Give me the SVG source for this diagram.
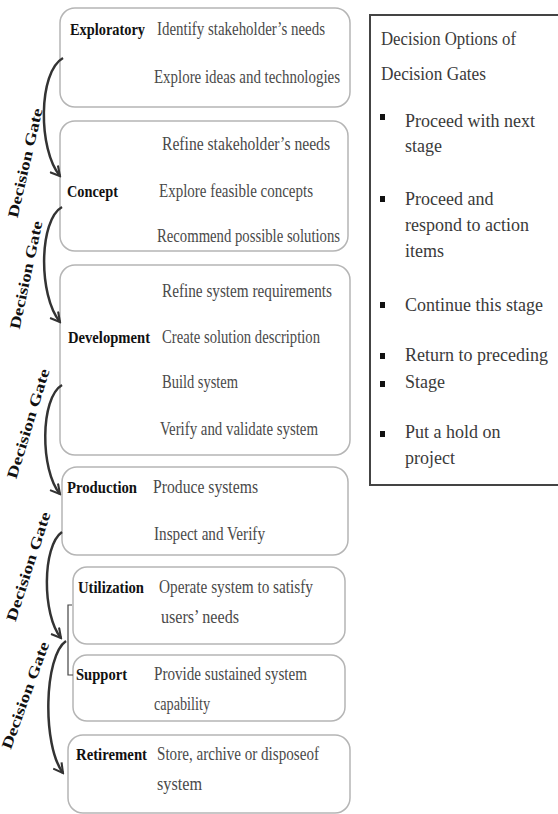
<svg xmlns="http://www.w3.org/2000/svg" width="558" height="814" viewBox="0 0 558 814">
<style>
.box{fill:#fff;stroke:#b5b5b5;stroke-width:1.5}
.lbl{font-family:"Liberation Serif",serif;font-weight:bold;font-size:17px;fill:#111}
.desc{font-family:"Liberation Serif",serif;font-size:18px;fill:#4a4a4a}
.gate{font-family:"Liberation Serif",serif;font-weight:bold;font-size:15px;fill:#111}
.arc{fill:none;stroke:#333;stroke-width:2.5;marker-end:url(#ah)}
.side{font-family:"Liberation Serif",serif;fill:#3a3a3a}
.bul{fill:#111}
</style>
<defs>
<marker id="ah" viewBox="0 0 12 12" refX="10" refY="6" markerWidth="5" markerHeight="5" orient="auto" markerUnits="strokeWidth">
<path d="M1,1 L10,6 L1,11" fill="none" stroke="#333" stroke-width="2"/>
</marker>
</defs>
<rect width="558" height="814" fill="#fff"/>

<g id="exploratory">
<rect class="box" x="60" y="8" width="290" height="99" rx="15"/>
<text class="lbl" x="70" y="35" textLength="75" lengthAdjust="spacingAndGlyphs">Exploratory</text>
<text class="desc" x="157" y="35" textLength="168" lengthAdjust="spacingAndGlyphs">Identify stakeholder’s needs</text>
<text class="desc" x="154" y="83" textLength="186" lengthAdjust="spacingAndGlyphs">Explore ideas and technologies</text>
</g>
<g id="concept">
<rect class="box" x="60" y="121" width="288" height="130" rx="15"/>
<text class="desc" x="162" y="150" textLength="168" lengthAdjust="spacingAndGlyphs">Refine stakeholder’s needs</text>
<text class="lbl" x="67" y="197" textLength="51" lengthAdjust="spacingAndGlyphs">Concept</text>
<text class="desc" x="159" y="197" textLength="154" lengthAdjust="spacingAndGlyphs">Explore feasible concepts</text>
<text class="desc" x="157" y="242" textLength="183" lengthAdjust="spacingAndGlyphs">Recommend possible solutions</text>
</g>
<g id="development">
<rect class="box" x="60" y="265" width="290" height="190" rx="15"/>
<text class="desc" x="162" y="297" textLength="170" lengthAdjust="spacingAndGlyphs">Refine system requirements</text>
<text class="lbl" x="68" y="343" textLength="82" lengthAdjust="spacingAndGlyphs">Development</text>
<text class="desc" x="162" y="343" textLength="158" lengthAdjust="spacingAndGlyphs">Create solution description</text>
<text class="desc" x="162" y="388" textLength="76" lengthAdjust="spacingAndGlyphs">Build system</text>
<text class="desc" x="160" y="435" textLength="158" lengthAdjust="spacingAndGlyphs">Verify and validate system</text>
</g>
<g id="production">
<rect class="box" x="62" y="467" width="286" height="88" rx="15"/>
<text class="lbl" x="67" y="493" textLength="70" lengthAdjust="spacingAndGlyphs">Production</text>
<text class="desc" x="153" y="493" textLength="105" lengthAdjust="spacingAndGlyphs">Produce systems</text>
<text class="desc" x="154" y="540" textLength="111" lengthAdjust="spacingAndGlyphs">Inspect and Verify</text>
</g>
<g id="utilization">
<rect class="box" x="73" y="567" width="272" height="77" rx="14"/>
<text class="lbl" x="78" y="593" textLength="66" lengthAdjust="spacingAndGlyphs">Utilization</text>
<text class="desc" x="159" y="593" textLength="154" lengthAdjust="spacingAndGlyphs">Operate system to satisfy</text>
<text class="desc" x="161" y="623" textLength="78" lengthAdjust="spacingAndGlyphs">users’ needs</text>
</g>
<g id="support">
<rect class="box" x="73" y="655" width="272" height="66" rx="14"/>
<text class="lbl" x="76" y="680" textLength="51" lengthAdjust="spacingAndGlyphs">Support</text>
<text class="desc" x="154" y="680" textLength="153" lengthAdjust="spacingAndGlyphs">Provide sustained system</text>
<text class="desc" x="154" y="710" textLength="56" lengthAdjust="spacingAndGlyphs">capability</text>
</g>
<g id="retirement">
<rect class="box" x="68" y="735" width="282" height="78" rx="15"/>
<text class="lbl" x="76" y="760" textLength="71" lengthAdjust="spacingAndGlyphs">Retirement</text>
<text class="desc" x="157" y="760" textLength="162" lengthAdjust="spacingAndGlyphs">Store, archive or disposeof</text>
<text class="desc" x="157" y="790" textLength="45" lengthAdjust="spacingAndGlyphs">system</text>
</g>

<g id="connectors">
<path class="arc" d="M63,58 C38,72 38,150 60,176"/>
<path class="arc" d="M62,207 C39,220 38,295 60,322"/>
<path class="arc" d="M62,385 C40,398 40,470 60,494"/>
<path class="arc" d="M62,532 C42,546 42,615 61,638"/>
<path class="arc" d="M66,641 C44,656 42,745 63,773"/>
<path d="M72,605 H68 V675 H73" fill="none" stroke="#444" stroke-width="1.2"/>
<text class="gate" transform="translate(30,164) rotate(-77)" text-anchor="middle" textLength="112" lengthAdjust="spacingAndGlyphs">Decision Gate</text>
<text class="gate" transform="translate(31,276) rotate(-78)" text-anchor="middle" textLength="110" lengthAdjust="spacingAndGlyphs">Decision Gate</text>
<text class="gate" transform="translate(33,425) rotate(-73)" text-anchor="middle" textLength="114" lengthAdjust="spacingAndGlyphs">Decision Gate</text>
<text class="gate" transform="translate(33,568) rotate(-72)" text-anchor="middle" textLength="114" lengthAdjust="spacingAndGlyphs">Decision Gate</text>
<text class="gate" transform="translate(30,697) rotate(-70)" text-anchor="middle" textLength="113" lengthAdjust="spacingAndGlyphs">Decision Gate</text>
</g>

<g id="decision-options">
<rect x="370" y="15" width="200" height="470" fill="#fff" stroke="#444" stroke-width="2"/>
<text class="side" x="381" y="45" font-size="18" textLength="135" lengthAdjust="spacingAndGlyphs">Decision Options of</text>
<text class="side" x="381" y="80" font-size="18" textLength="105" lengthAdjust="spacingAndGlyphs">Decision Gates</text>
<rect class="bul" x="380" y="114" width="5" height="6"/>
<rect class="bul" x="380" y="196" width="5" height="6"/>
<rect class="bul" x="380" y="302" width="5" height="6"/>
<rect class="bul" x="380" y="353" width="5" height="6"/>
<rect class="bul" x="380" y="381" width="5" height="6"/>
<rect class="bul" x="380" y="431" width="5" height="6"/>
<g font-size="18">
<text class="side" x="405" y="127">Proceed with next</text>
<text class="side" x="405" y="152">stage</text>
<text class="side" x="405" y="205">Proceed and</text>
<text class="side" x="405" y="231">respond to action</text>
<text class="side" x="405" y="257">items</text>
<text class="side" x="405" y="311">Continue this stage</text>
<text class="side" x="405" y="361">Return to preceding</text>
<text class="side" x="405" y="388">Stage</text>
<text class="side" x="405" y="438">Put a hold on</text>
<text class="side" x="405" y="464">project</text>
</g>
</g>
</svg>
